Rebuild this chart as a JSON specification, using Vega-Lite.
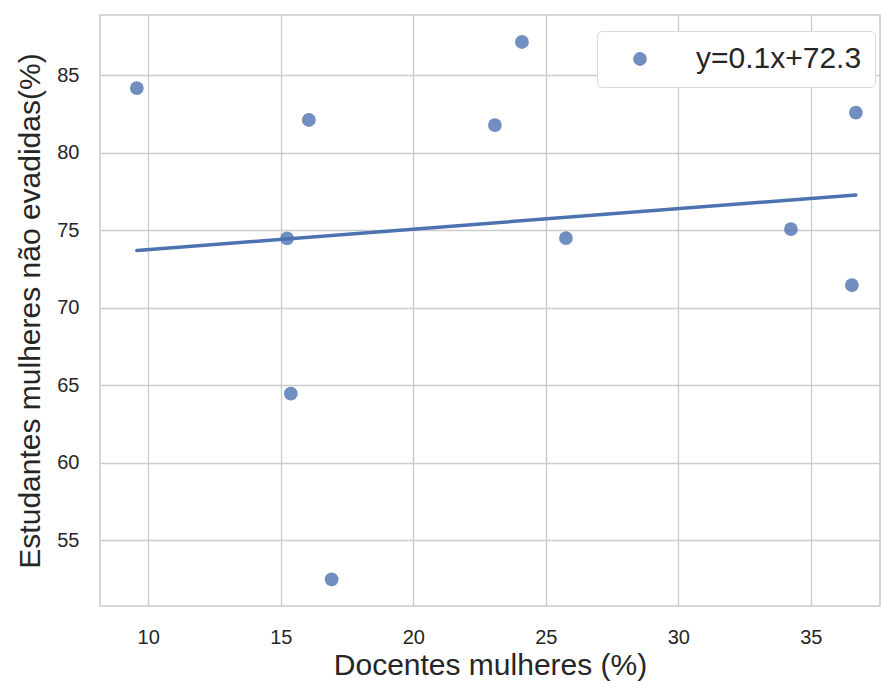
{
  "$schema": "https://vega.github.io/schema/vega-lite/v6.json",
  "autosize": {"type": "none"},
  "padding": {"left": 100, "top": 15, "right": 1, "bottom": 78},
  "width": 780,
  "height": 591,
  "background": "white",
  "config": {
    "font": "Liberation Sans",
    "view": {"stroke": "#cccccc", "strokeWidth": 1.6},
    "axis": {
      "domain": false,
      "ticks": false,
      "grid": true,
      "gridColor": "#cccccc",
      "gridWidth": 1.4,
      "labelFont": "Liberation Sans",
      "labelFontSize": 20,
      "labelColor": "#262626",
      "titleFont": "Liberation Sans",
      "titleFontSize": 30,
      "titleFontWeight": "normal",
      "titleColor": "#262626"
    }
  },
  "data": {
    "values": [
      {"docentes": 9.57, "estudantes": 84.16},
      {"docentes": 16.06, "estudantes": 82.10},
      {"docentes": 15.24, "estudantes": 74.46},
      {"docentes": 15.38, "estudantes": 64.45},
      {"docentes": 16.92, "estudantes": 52.48},
      {"docentes": 23.08, "estudantes": 81.77},
      {"docentes": 24.10, "estudantes": 87.13},
      {"docentes": 25.76, "estudantes": 74.48},
      {"docentes": 34.25, "estudantes": 75.06},
      {"docentes": 36.55, "estudantes": 71.45},
      {"docentes": 36.70, "estudantes": 82.57}
    ]
  },
  "layer": [
    {
      "mark": {"type": "circle", "size": 190, "opacity": 0.8},
      "encoding": {
        "x": {
          "field": "docentes",
          "type": "quantitative",
          "scale": {"domain": [8.18, 37.61], "nice": false, "zero": false},
          "axis": {"values": [10, 15, 20, 25, 30, 35], "labelPadding": 21, "titlePadding": 3},
          "title": "Docentes mulheres (%)"
        },
        "y": {
          "field": "estudantes",
          "type": "quantitative",
          "scale": {"domain": [50.76, 88.87], "nice": false, "zero": false},
          "axis": {"values": [55, 60, 65, 70, 75, 80, 85], "labelPadding": 21, "titlePadding": 11},
          "title": "Estudantes mulheres não evadidas(%)"
        },
        "color": {
          "datum": "y=0.1x+72.3",
          "type": "nominal",
          "scale": {"range": ["#4c72b0"]},
          "legend": {
            "title": null,
            "orient": "none",
            "legendX": 497,
            "legendY": 16,
            "padding": 13,
            "fillColor": "white",
            "strokeColor": "#d9d9d9",
            "cornerRadius": 5,
            "symbolType": "circle",
            "symbolSize": 190,
            "symbolOpacity": 0.8,
            "symbolStrokeWidth": 0,
            "symbolOffset": 15,
            "labelOffset": 41,
            "labelFont": "Liberation Sans",
            "labelFontSize": 30,
            "labelColor": "#262626",
            "labelLimit": 400
          }
        }
      }
    },
    {
      "transform": [{"regression": "estudantes", "on": "docentes"}],
      "mark": {"type": "line", "color": "#4c72b0", "strokeWidth": 3.5, "strokeCap": "round"},
      "encoding": {
        "x": {"field": "docentes", "type": "quantitative"},
        "y": {"field": "estudantes", "type": "quantitative"}
      }
    }
  ]
}
